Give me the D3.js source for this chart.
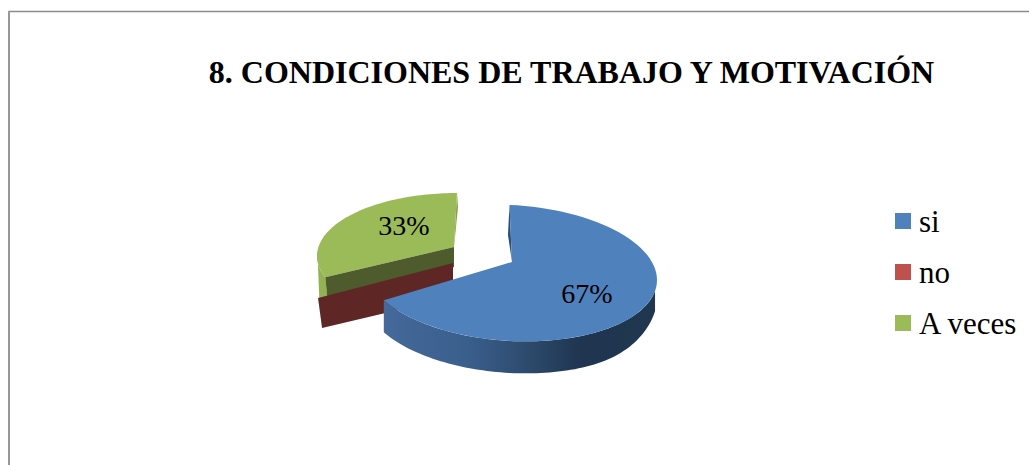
<!DOCTYPE html>
<html>
<head>
<meta charset="utf-8">
<script src="https://cdn.jsdelivr.net/npm/d3@7"></script>
<style>
html,body{margin:0;padding:0;background:#fff}
svg{display:block}
text{font-family:"Liberation Serif","Times New Roman",serif;fill:#000}
</style>
</head>
<body>
<svg id="c" width="1029" height="465"></svg>
<script>
const titleText = "8. CONDICIONES DE TRABAJO Y MOTIVACIÓN";
const categories = ["si", "no", "A veces"];
const values = [67, 0, 33];
const faceColors = ["#4f81bd", "#c0504d", "#9bbb59"];
const cutColors = ["#2c4d75", "#5e2725", "#4e5b2c"];

// projection of each exploded slice (tilted, perspective-like pie)
const geometry = [
  {cx:511, cy:273, rx:146, ry:68, skew:7, apex:[512,262], depth:32, lead:-0.6, labelAt:[587,303]},
  {cx:453, cy:263, rx:154, ry:72.6, skew:0, apex:[453,263], depth:32, lead:0},
  {cx:457, cy:256, rx:140, ry:63, skew:0, apex:[454,247], depth:20, lead:9, labelAt:[404,235]}
];

const svg = d3.select("#c");
const defs = svg.append("defs");
const grad = defs.append("linearGradient").attr("id","blueSide")
  .attr("gradientUnits","userSpaceOnUse").attr("x1",385).attr("x2",657).attr("y1",0).attr("y2",0);
[[0,"#44699a"],[0.3,"#3a5f8d"],[0.55,"#2b4869"],[0.72,"#1f3550"],[1,"#20374f"]]
  .forEach(s=>grad.append("stop").attr("offset",s[0]).attr("stop-color",s[1]));

// frame
svg.append("path").attr("d","M9,465V11.5H1029").attr("fill","none").attr("stroke","#8c8c8c").attr("stroke-width",1.6);
svg.append("path").attr("d","M9,12.5V465").attr("fill","none").attr("stroke","#8c8c8c").attr("stroke-width",1);

// title
svg.append("text").attr("x",571.5).attr("y",82.5).attr("text-anchor","middle")
  .attr("font-size",32).attr("font-weight","bold").text(titleText);

// slice angles
const arcs = d3.pie().sort(null).value(d=>d)(values);
const lineGen = d3.line();
const pt = (g,a,drop=0)=>{
  const t = a + g.lead*Math.PI/180;
  const s = Math.sin(t);
  // the wall foreshortens toward the right-hand extreme of the pie
  const taper = 1 - 0.4*Math.pow(Math.max(0,s),6);
  return [g.cx + g.rx*s, g.cy - g.ry*Math.cos(t) + g.skew*s + drop*taper];
};
const arcPts = (g,a0,a1,drop=0)=>{
  const n = 80;
  return d3.range(n+1).map(i=>pt(g,a0+(a1-a0)*i/n,drop));
};
const leadRad = g=>g.lead*Math.PI/180;

// --- green slice (back)
{
  const a = arcs[2], g = geometry[2];
  const a1 = a.startAngle, a2 = a.endAngle - leadRad(g);
  const o = pt(g,a1);
  // outer rim on the left
  svg.append("path").attr("d",lineGen([...arcPts(g,a1,a1+0.42),[o[0]-6,o[1]+21],[o[0]+2,o[1]+19]])+"Z").attr("fill","#94b254");
  // thin right wall
  const top = pt(g,a2);
  svg.append("path").attr("d",lineGen([top,[top[0]+1,top[1]+14],g.apex])+"Z").attr("fill","#86a14a");
  // top face
  svg.append("path").attr("d",lineGen([g.apex,...arcPts(g,a1,a2)])+"Z").attr("fill",faceColors[2]);
  // cut face
  svg.append("path").attr("d",lineGen([o,g.apex,[g.apex[0],g.apex[1]+g.depth],[o[0]+2,o[1]+g.depth]])+"Z").attr("fill",cutColors[2]);
}

// --- red slice: zero value, only its cut face shows
{
  const a = arcs[1], g = geometry[1];
  const o = pt(g,a.startAngle);
  svg.append("path").attr("d",lineGen([o,g.apex,[g.apex[0],g.apex[1]+g.depth+2],[o[0]+4,o[1]+g.depth-2]])+"Z").attr("fill",cutColors[1]);
}

// --- blue slice (front)
{
  const a = arcs[0], g = geometry[0];
  const rimStart = 100*Math.PI/180;
  const rim = arcPts(g,rimStart,a.endAngle).concat(arcPts(g,rimStart,a.endAngle,g.depth).reverse());
  svg.append("path").attr("d",lineGen(rim)+"Z").attr("fill","url(#blueSide)");
  // inner wall sliver along the top edge
  const s = pt(g,a.startAngle);
  svg.append("path").attr("d",lineGen([s,[s[0]-1.5,s[1]+30],g.apex])+"Z").attr("fill",cutColors[0]);
  svg.append("path").attr("d",lineGen([g.apex,...arcPts(g,a.startAngle,a.endAngle)])+"Z").attr("fill",faceColors[0]);
}

// data labels
const pct = d3.format(".0%"), total = d3.sum(values);
values.forEach((v,i)=>{
  if(!v) return;
  svg.append("text").attr("x",geometry[i].labelAt[0]).attr("y",geometry[i].labelAt[1])
    .attr("text-anchor","middle").attr("font-size",28).text(pct(v/total));
});

// legend
const ly = d3.scalePoint().domain(categories).range([213,315]);
const lg = svg.append("g").selectAll("g").data(categories).join("g");
lg.append("rect").attr("x",895).attr("y",d=>ly(d)).attr("width",16).attr("height",16)
  .attr("fill",(d,i)=>faceColors[i]);
lg.append("text").attr("x",919).attr("y",d=>ly(d)+19).attr("font-size",31).text(d=>d);
</script>
</body>
</html>
